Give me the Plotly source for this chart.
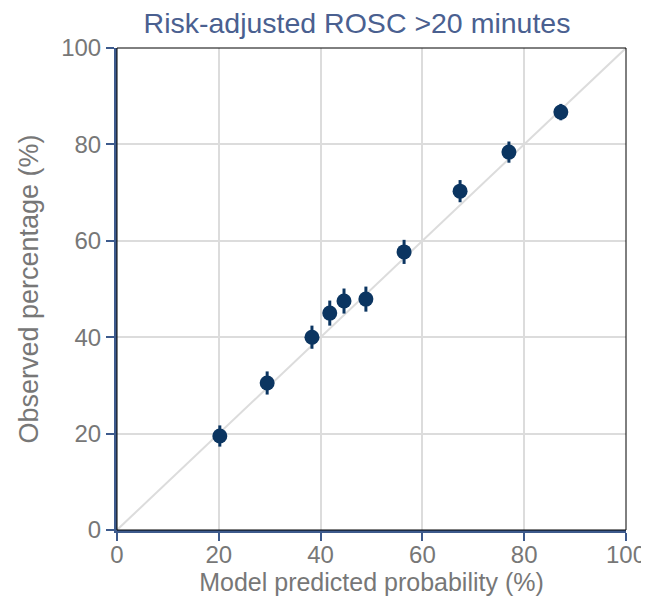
import plotly.graph_objects as go

predicted = [20.2, 29.5, 38.3, 41.8, 44.6, 48.9, 56.4, 67.4, 77.0, 87.2]
observed = [19.5, 30.5, 40.0, 45.0, 47.5, 47.9, 57.7, 70.3, 78.4, 86.7]
err = [2.2, 2.4, 2.4, 2.6, 2.6, 2.6, 2.5, 2.3, 2.2, 1.7]
diag = [0, 100]
ticks = [0, 20, 40, 60, 80, 100]

axis_blue = "#3d5a8c"
gray_txt = "#777777"

fig = go.Figure()
fig.add_trace(go.Scatter(x=diag, y=diag, mode="lines",
                         line=dict(color="#dcdcdc", width=2),
                         hoverinfo="skip", showlegend=False))
fig.add_trace(go.Scatter(x=predicted, y=observed, mode="markers",
                         marker=dict(color="#0b3561", size=15),
                         error_y=dict(type="data", array=err, visible=True,
                                      color="#0b3561", thickness=3, width=0),
                         showlegend=False))

fig.add_shape(type="rect", xref="paper", yref="paper", x0=0, y0=0, x1=1, y1=1,
              line=dict(color="black", width=1), layer="above")

fig.update_layout(
    width=649, height=605,
    margin=dict(l=109, r=31, t=40, b=83),
    paper_bgcolor="white", plot_bgcolor="white",
    font=dict(family="Liberation Sans, Arial, sans-serif", color=gray_txt, size=24),
    title=dict(text="Risk-adjusted ROSC >20 minutes", x=(357 - 8) / 649, xanchor="center",
               xref="container", y=1 - 15 / 605, yanchor="middle",
               font=dict(size=28.5, color="#4a6090")),
)
fig.update_xaxes(range=[0, 100], tickvals=ticks, showgrid=True, gridcolor="#dcdcdc",
                 gridwidth=2, zeroline=False, showline=True, linecolor=axis_blue,
                 linewidth=3, ticks="outside", tickcolor=axis_blue, ticklen=8,
                 tickwidth=2, tickfont=dict(size=24, color=gray_txt),
                 ticklabelstandoff=-7,
                 title=dict(text="Model predicted probability (%)", standoff=0,
                            font=dict(size=25, color=gray_txt)))
fig.update_yaxes(range=[0, 100], tickvals=ticks, showgrid=True, gridcolor="#dcdcdc",
                 gridwidth=2, zeroline=False, showline=True, linecolor=axis_blue,
                 linewidth=3, ticks="outside", tickcolor=axis_blue, ticklen=8,
                 tickwidth=2, tickfont=dict(size=24, color=gray_txt),
                 title=dict(text="Observed percentage (%)", standoff=15,
                            font=dict(size=27, color=gray_txt)))

fig.write_html("out.html")
